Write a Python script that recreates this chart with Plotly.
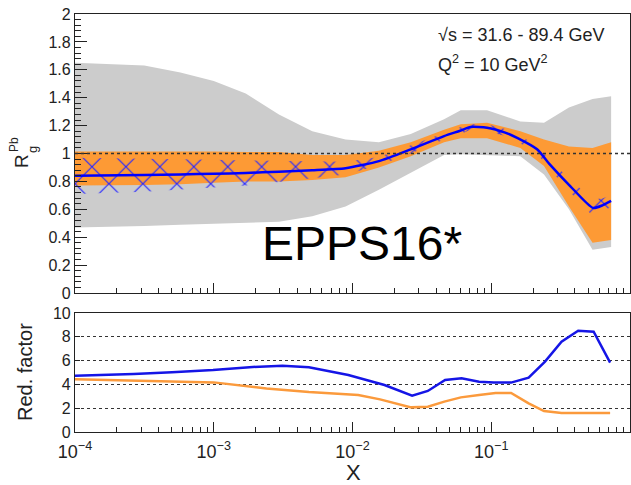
import plotly.graph_objects as go

# ---------------- data ----------------
# top panel: uncertainty bands (x, upper, lower)
band_x = [1.0e-4, 3.16e-4, 5.75e-4, 1.0e-3, 1.70e-3, 2.95e-3, 5.13e-3, 8.91e-3,
          1.55e-2, 2.63e-2, 4.57e-2, 6.03e-2, 9.33e-2, 0.162, 0.240, 0.363, 0.537, 0.731]
gray_upper = [1.65, 1.63, 1.58, 1.52, 1.43, 1.28, 1.16, 1.10, 1.08, 1.14, 1.245, 1.31,
              1.31, 1.23, 1.22, 1.33, 1.39, 1.41]
gray_lower = [0.47, 0.48, 0.49, 0.50, 0.505, 0.51, 0.55, 0.62, 0.74, 0.86, 0.99, 0.995,
              0.99, 0.98, 0.85, 0.60, 0.31, 0.33]
orange_upper = [1.015, 1.015, 1.02, 1.015, 1.01, 1.01, 0.99, 0.99, 1.02, 1.08, 1.17, 1.21,
                1.22, 1.16, 1.10, 1.05, 1.04, 1.08]
orange_lower = [0.77, 0.775, 0.78, 0.79, 0.80, 0.80, 0.81, 0.83, 0.90, 0.98, 1.08, 1.11,
                1.11, 1.04, 0.91, 0.62, 0.36, 0.38]

# top panel: central value and hatched (reweighted) band
central_x = [1.0e-4, 3.16e-4, 5.75e-4, 1.0e-3, 1.70e-3, 2.95e-3, 5.13e-3, 8.91e-3,
             1.55e-2, 2.63e-2, 4.57e-2, 6.03e-2, 7.08e-2, 9.33e-2, 0.126, 0.155,
             0.214, 0.265, 0.372, 0.541, 0.638, 0.731]
central_y = [0.84, 0.845, 0.85, 0.855, 0.86, 0.87, 0.88, 0.895, 0.945, 1.03, 1.125, 1.165,
             1.19, 1.185, 1.15, 1.11, 1.03, 0.92, 0.765, 0.61, 0.63, 0.66]
hatch_upper = [0.97, 0.965, 0.96, 0.955, 0.95, 0.945, 0.94, 0.94, 0.975, 1.06, 1.15, 1.19,
               1.21, 1.21, 1.175, 1.135, 1.06, 0.955, 0.81, 0.67, 0.68, 0.70]
hatch_lower = [0.71, 0.725, 0.74, 0.755, 0.77, 0.795, 0.82, 0.85, 0.915, 1.0, 1.10, 1.14,
               1.17, 1.16, 1.125, 1.085, 1.0, 0.885, 0.72, 0.55, 0.58, 0.62]

# bottom panel: reduction factors
red_blue_x = [1.0e-4, 2.65e-4, 5.0e-4, 9.89e-4, 1.81e-3, 3.13e-3, 4.85e-3, 9.33e-3,
              1.70e-2, 2.69e-2, 3.49e-2, 4.65e-2, 6.11e-2, 8.17e-2, 0.1045, 0.139,
              0.186, 0.244, 0.321, 0.423, 0.547, 0.719]
red_blue_y = [4.73, 4.87, 5.03, 5.21, 5.45, 5.57, 5.45, 4.79, 3.95, 3.05, 3.45, 4.37,
              4.51, 4.23, 4.15, 4.15, 4.57, 5.91, 7.59, 8.51, 8.43, 5.83]
red_orange_x = [1.0e-4, 4.57e-4, 1.0e-3, 2.40e-3, 4.85e-3, 1.10e-2, 1.58e-2, 2.65e-2,
                3.49e-2, 4.59e-2, 6.04e-2, 8.17e-2, 0.1074, 0.139, 0.186, 0.240, 0.321, 0.719]
red_orange_y = [4.43, 4.29, 4.17, 3.66, 3.36, 3.11, 2.74, 2.07, 2.13, 2.55, 2.91, 3.11,
                3.28, 3.28, 2.41, 1.76, 1.60, 1.60]

xtick_vals = [1e-4, 1e-3, 1e-2, 1e-1, 1]
xtick_text = ["10<sup>\u22124</sup>", "10<sup>\u22123</sup>", "10<sup>\u22122</sup>",
              "10<sup>\u22121</sup>", "1"]

# ---------------- layout geometry ----------------
W, H = 631, 485
ML, MR, MT, MB = 75, 1, 14, 53
PW, PH = W - ML - MR, H - MT - MB


def px(xp, yp):
    return (xp - ML) / PW, (H - MB - yp) / PH


FONT = "Liberation Sans, Arial, sans-serif"
GRAY = "#cccccc"
ORANGE = "#fd9a35"
BLUE = "#0000ff"

fig = go.Figure()


def band(xs, up, lo, **kw):
    return go.Scatter(x=list(xs) + list(xs)[::-1], y=list(up) + list(lo)[::-1],
                      fill="toself", mode="lines", line=dict(width=0), hoverinfo="skip",
                      showlegend=False, xaxis="x", yaxis="y", **kw)


fig.add_trace(band(band_x, gray_upper, gray_lower, fillcolor=GRAY))
fig.add_trace(band(band_x, orange_upper, orange_lower, fillcolor=ORANGE))
fig.add_trace(band(central_x, hatch_upper, hatch_lower,
                   fillcolor="rgba(0,0,0,0)",
                   fillpattern=dict(shape="x", fgcolor="#2a2aff", fgopacity=1,
                                    bgcolor="rgba(0,0,0,0)", fillmode="overlay",
                                    size=24, solidity=0.1)))
fig.add_trace(go.Scatter(x=central_x, y=central_y, mode="lines",
                         line=dict(color=BLUE, width=2.5, shape="spline", smoothing=0.6),
                         showlegend=False, xaxis="x", yaxis="y"))

fig.add_trace(go.Scatter(x=red_blue_x, y=red_blue_y, mode="lines",
                         line=dict(color="#1515e6", width=2.5),
                         showlegend=False, xaxis="x2", yaxis="y2"))
fig.add_trace(go.Scatter(x=red_orange_x, y=red_orange_y, mode="lines",
                         line=dict(color="#fb9a3c", width=2.5),
                         showlegend=False, xaxis="x2", yaxis="y2"))

top_bottom = (H - MB - 293) / PH
bot_top = (H - MB - 313) / PH

axis_common = dict(showline=True, linecolor="#222", linewidth=1.2, mirror=True,
                   zeroline=False, showgrid=False)
tickfont = dict(family=FONT, size=16, color="#222")

fig.update_layout(
    width=W, height=H, margin=dict(l=ML, r=MR, t=MT, b=MB),
    paper_bgcolor="white", plot_bgcolor="white", showlegend=False,
    xaxis=dict(type="log", range=[-4, 0], domain=[0, 1], anchor="y",
               showticklabels=False, ticks="inside", ticklen=10, tickcolor="#222",
               tickvals=xtick_vals,
               minor=dict(ticks="inside", ticklen=5, tickcolor="#222", dtick="D1"),
               **axis_common),
    yaxis=dict(range=[0, 2], domain=[top_bottom, 1], anchor="x", dtick=0.2,
               ticks="inside", ticklen=12, tickcolor="#222", tickfont=tickfont,
               minor=dict(ticks="inside", ticklen=6, dtick=0.04, tickcolor="#222"),
               **axis_common),
    xaxis2=dict(type="log", range=[-4, 0], domain=[0, 1], anchor="y2",
                tickvals=xtick_vals, ticktext=xtick_text, ticks="inside", ticklen=10,
                tickcolor="#222", tickfont=dict(family=FONT, size=18, color="#222"),
                ticklabelstandoff=3,
                minor=dict(ticks="inside", ticklen=5, tickcolor="#222", dtick="D1"),
                **axis_common),
    yaxis2=dict(range=[0, 10], domain=[0, bot_top], anchor="x2", dtick=2,
                ticks="inside", ticklen=5, tickcolor="#222", tickfont=tickfont,
                showline=True, linecolor="#222", linewidth=1.2, mirror=True,
                zeroline=False, showgrid=True, gridcolor="#333", griddash="dot",
                gridwidth=1.2),
)

# dotted line at R = 1
fig.add_shape(type="line", xref="x domain", yref="y", x0=0, x1=1, y0=1, y1=1,
              line=dict(color="#333", width=1.5, dash="dot"), layer="above")

annots = []


def ann(text, xp, yp, size, angle=0, xanchor="center", color="#222"):
    x, y = px(xp, yp)
    annots.append(dict(text=text, x=x, y=y, xref="paper", yref="paper", showarrow=False,
                       xanchor=xanchor, yanchor="middle", textangle=angle,
                       font=dict(family=FONT, size=size, color=color)))


ann("\u221As = 31.6 - 89.4 GeV", 436, 35, 18, xanchor="left")
ann("Q<sup>2</sup> = 10 GeV<sup>2</sup>", 436, 64, 18, xanchor="left")
ann("EPPS16*", 362, 243, 48, color="black")
ann("R", 21, 161, 19, angle=-90)
ann("Pb", 14, 145, 12, angle=-90)
ann("g", 32, 150, 13, angle=-90)
ann("Red. factor", 25, 372, 20, angle=-90)
ann("X", 353, 472, 22)

fig.update_layout(annotations=annots)

fig.write_html("out.html")
